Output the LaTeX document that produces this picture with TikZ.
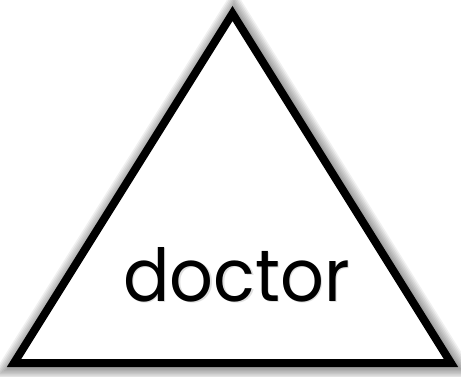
\documentclass[tikz,border=0pt]{standalone}
\usepackage{graphicx}
\usepackage{fontspec}
\setmainfont{Poppins}
\newcommand{\narrowtxt}[1]{\scalebox{0.94}[1]{#1}}
\begin{document}
\begin{tikzpicture}[x=1pt,y=-1pt,
  tri/.style={line width=8pt,line join=miter,miter limit=20},
  label/.style={font=\fontsize{73}{78}\selectfont,anchor=base,inner sep=0pt}]
\useasboundingbox (0,0) rectangle (461,376);
\fill[white] (0,0) rectangle (461,376);
\coordinate (A) at (232.5,13.5);
\coordinate (B) at (14,363);
\coordinate (C) at (451,363);
% soft shadow
\foreach \w in {28,25,22,19,16,13,10} {
  \draw[black,opacity=0.06,line width=\w pt,line join=miter,miter limit=20]
    ([shift={(1.5,1.5)}]A) -- ([shift={(1.5,1.5)}]B) -- ([shift={(1.5,1.5)}]C) -- cycle;
}
\fill[white] (A) -- (B) -- (C) -- cycle;
\draw[tri] (A) -- (B) -- (C) -- cycle;
\node[label,text=black!30,opacity=0.4] (ts) at (238,302.5) {\narrowtxt{doctor}};
\node[label] (t) at (236.5,301) {\narrowtxt{doctor}};
\end{tikzpicture}
\end{document}
